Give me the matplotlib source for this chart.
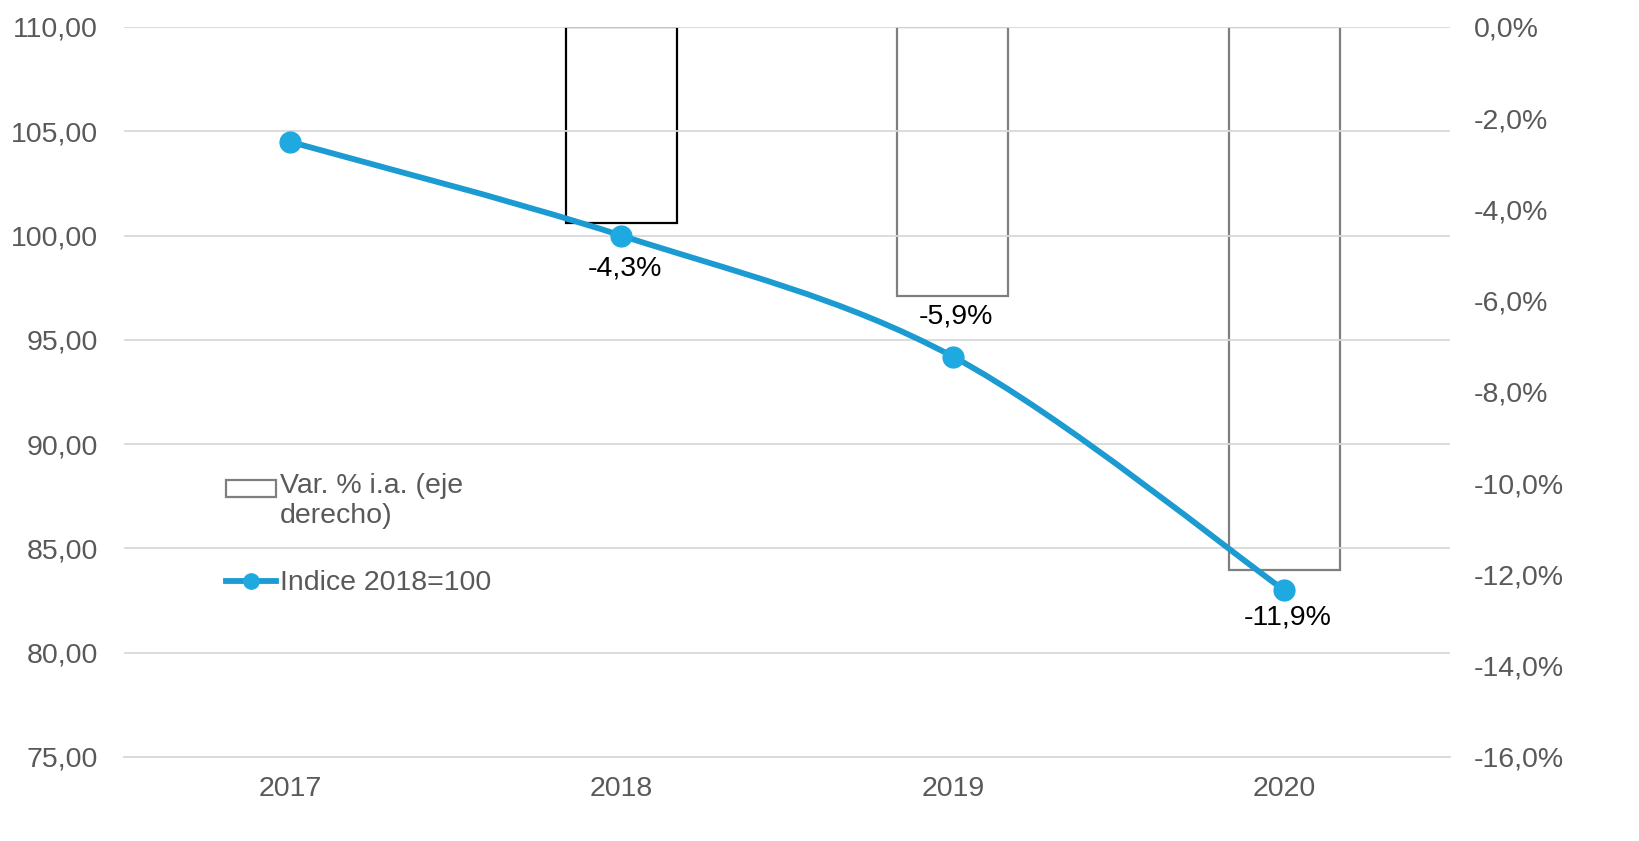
import numpy as np
import matplotlib
matplotlib.use('Agg')
import matplotlib.pyplot as plt
from matplotlib.path import Path
from matplotlib.patches import PathPatch, Patch, Rectangle
from matplotlib.lines import Line2D
from matplotlib.legend_handler import HandlerPatch

plt.rcParams['font.family'] = ['Liberation Sans', 'DejaVu Sans']
plt.rcParams['font.size'] = 20.5

years = ['2017', '2018', '2019', '2020']
indice = [104.5, 100.0, 94.2, 83.0]          # Indice 2018=100 (eje izquierdo)
var_years = ['2018', '2019', '2020']
var_pct = [-4.3, -5.9, -11.9]                # Var. % i.a. (eje derecho)
var_labels = ['-4,3%', '-5,9%', '-11,9%']
label_y = [-5.3, -6.35, -12.95]              # posicion de las etiquetas (eje derecho)
bar_edges = ['black', '#7f7f7f', '#7f7f7f']

line_col = '#1b9bd1'
mark_col = '#1fa9e1'
txt_col = '#595959'
grid_col = '#d9d9d9'
fs = 20.5

fig = plt.figure(figsize=(16.39, 8.41), dpi=100)
ax = fig.add_axes([0.0757, 0.0999, 0.809, 0.868])
ax2 = ax.twinx()
ax.set_zorder(ax2.get_zorder() + 1)
ax.patch.set_visible(False)

x = np.arange(len(years))
xb = [years.index(y) for y in var_years]

## barras (eje derecho), colgando desde 0
ax2.bar(xb, var_pct, width=0.335, facecolor='none', edgecolor=bar_edges, linewidth=1.6)
ax2.set_ylim(-16, 0)
ax2.set_yticks(np.arange(-16, 0.1, 2))
ax2.set_yticklabels([('%.1f%%' % v).replace('.', ',') for v in np.arange(-16, 0.1, 2)])
for xi, ly, lab in zip(xb, label_y, var_labels):
    ax2.text(xi + 0.01, ly, lab, ha='center', va='center', color='black', fontsize=fs)

## linea suavizada (bezier tipo excel)
px = list(x.astype(float))
py = list(indice)
verts = [(px[0], py[0])]
codes = [Path.MOVETO]
n = len(px)
for i in range(n - 1):
    p0 = i - 1 if i > 0 else i
    p3 = i + 2 if i + 2 < n else i + 1
    c1 = (px[i] + (px[i+1] - px[p0]) / 6, py[i] + (py[i+1] - py[p0]) / 6)
    c2 = (px[i+1] - (px[p3] - px[i]) / 6, py[i+1] - (py[p3] - py[i]) / 6)
    verts += [c1, c2, (px[i+1], py[i+1])]
    codes += [Path.CURVE4] * 3
ax.add_patch(PathPatch(Path(verts, codes), facecolor='none', edgecolor=line_col,
                       linewidth=4.2, capstyle='round', zorder=3))
ax.plot(x, indice, linestyle='none', marker='o', markersize=15, color=mark_col, zorder=4)

ax.set_xlim(-0.5, len(years) - 0.5)
ax.set_ylim(75, 110)
ax.set_yticks(np.arange(75, 110.1, 5))
ax.set_yticklabels([('%.2f' % v).replace('.', ',') for v in np.arange(75, 110.1, 5)])
ax.set_xticks(x)
ax.set_xticklabels(years)
ax.grid(axis='y', color=grid_col, linewidth=1.3)
ax.set_axisbelow(True)

for a in (ax, ax2):
    for s in a.spines.values():
        s.set_visible(False)
    a.tick_params(length=0, colors=txt_col, labelsize=fs)
ax.spines['bottom'].set_visible(True)
ax.spines['bottom'].set_color(grid_col)
ax.spines['bottom'].set_linewidth(1.3)
ax.tick_params(axis='x', pad=14)
ax.tick_params(axis='y', pad=19)
ax2.tick_params(axis='y', pad=17)


def top_patch(legend, orig_handle, xdescent, ydescent, width, height, fontsize):
    # caja alineada con la primera linea del texto
    return Rectangle((-xdescent, -ydescent + 0.42 * fontsize), width, height)


handles = [Patch(facecolor='white', edgecolor='#7f7f7f', linewidth=1.6),
           Line2D([0], [0], color=line_col, linewidth=4.2, marker='o', markersize=11,
                  markerfacecolor=mark_col, markeredgecolor=mark_col)]
leg = ax.legend(handles, ['Var. % i.a. (eje\nderecho)', 'Indice 2018=100'],
                loc='upper left', bbox_to_anchor=(0.0686, 0.405), frameon=False,
                labelcolor=txt_col, fontsize=fs, handlelength=1.75, handleheight=0.55,
                handletextpad=0.12, labelspacing=1.45, borderaxespad=0,
                handler_map={Patch: HandlerPatch(patch_func=top_patch)})

fig.savefig('out.png', dpi=100)
